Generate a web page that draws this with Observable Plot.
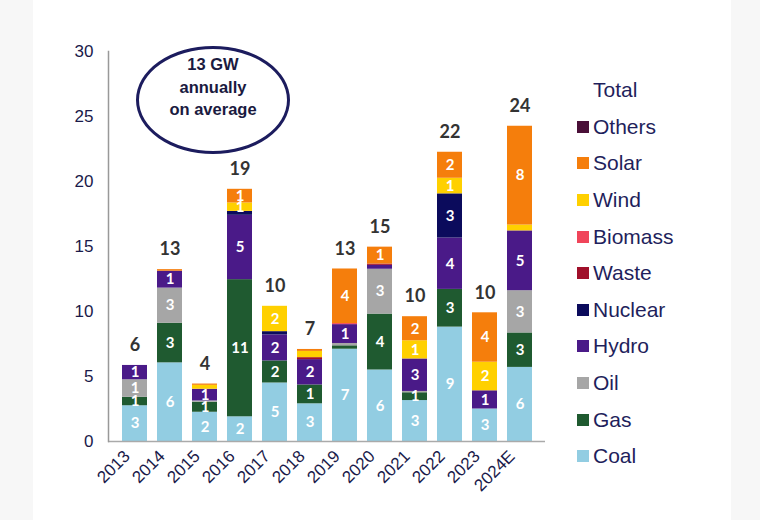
<!DOCTYPE html>
<html>
<head>
<meta charset="utf-8">
<script src="https://cdn.jsdelivr.net/npm/d3@7"></script>
<script src="https://cdn.jsdelivr.net/npm/@observablehq/plot@0.6"></script>
<style>
  html, body { margin: 0; padding: 0; background: #fff; }
  #wrap { position: relative; width: 760px; height: 520px; background: #fff; overflow: hidden; font-family: "Liberation Sans", Arial, sans-serif; }
  .strip { position: absolute; top: 0; height: 520px; background: #f7f7f7; }
  #chart { position: absolute; left: 0; top: 0; }
  #ellipse { position: absolute; left: 136px; top: 46px; width: 148px; border: 3px solid #1c1c5e; border-radius: 50%;
    display: flex; flex-direction: column; align-items: center; justify-content: center; color: #1a1a40;
    font-family: "Liberation Sans", Arial, sans-serif; font-weight: bold; font-size: 16.5px; line-height: 22.5px; padding-bottom: 26px; height: 76px; box-sizing: content-box; }
  #legend { position: absolute; left: 577px; top: 72px; color: #1f1f5c; font-size: 21px; font-family: "Liberation Sans", Arial, sans-serif; }
  #legend .row { display: flex; align-items: center; height: 36.6px; }
  #legend .sw { width: 12px; height: 12px; margin-right: 4px; }
</style>
</head>
<body>
<div id="wrap">
  <div class="strip" style="left:0;width:33px"></div>
  <div class="strip" style="left:731px;width:29px"></div>
  <div id="chart"></div>
  <div id="ellipse"><div>13 GW</div><div>annually</div><div>on average</div></div>
  <div id="legend"></div>
</div>
<script>
const years = ["2013","2014","2015","2016","2017","2018","2019","2020","2021","2022","2023","2024E"];
const coal    = [2.75, 6.05, 2.25, 1.9, 4.5, 2.9, 7.1, 5.5, 3.15, 8.8, 2.5, 5.7];
const gas     = [0.65, 3.05, 0.77, 10.55, 1.7, 1.45, 0.26, 4.3, 0.6, 2.9, 0, 2.65];
const oil     = [1.35, 2.7, 0.1, 0, 0, 0, 0.18, 3.45, 0.1, 0, 0, 3.25];
const hydro   = [1.1, 1.3, 0.9, 4.95, 2.0, 1.95, 1.45, 0.3, 2.5, 3.95, 1.4, 4.6];
const nuclear = [0, 0, 0, 0.3, 0.25, 0, 0, 0, 0, 3.4, 0, 0];
const waste   = [0, 0, 0, 0, 0, 0.15, 0, 0.1, 0, 0, 0, 0];
const biomass = [0, 0, 0, 0, 0, 0, 0.08, 0, 0, 0, 0, 0];
const wind    = [0, 0, 0.3, 0.65, 1.95, 0.48, 0, 0, 1.4, 1.2, 2.2, 0.45];
const solar   = [0, 0.12, 0.1, 1.05, 0, 0.15, 4.2, 1.3, 1.85, 2.0, 3.8, 7.6];
const others  = [0, 0, 0, 0, 0, 0, 0, 0, 0, 0, 0, 0];
const yTicks  = [0, 5, 10, 15, 20, 25, 30];

const sources = ["Coal","Gas","Oil","Hydro","Nuclear","Waste","Biomass","Wind","Solar","Others"];
const series = {Coal: coal, Gas: gas, Oil: oil, Hydro: hydro, Nuclear: nuclear, Waste: waste, Biomass: biomass, Wind: wind, Solar: solar, Others: others};
const colors = ["#92cde2","#1f5a30","#a6a6a6","#4a1a88","#0b0b5c","#a0102a","#f0455a","#ffd000","#f57e0c","#4a0f38"];

const data = [];
years.forEach((y, i) => sources.forEach(s => { if (series[s][i] > 0) data.push({year: y, source: s, value: series[s][i]}); }));
const totals = years.map((y, i) => ({year: y, total: d3.sum(sources, s => series[s][i])}));

const navy = "#1a1a4a";
const plot = Plot.plot({
  width: 560, height: 520,
  marginLeft: 108, marginRight: 15, marginTop: 51, marginBottom: 79,
  style: {background: "transparent", fontFamily: "Liberation Sans, Arial, sans-serif"},
  x: {domain: years, padding: 0.29, label: null},
  y: {domain: [0, 30], label: null},
  color: {domain: sources, range: colors},
  marks: [
    Plot.barY(data, {x: "year", y: "value", z: "source", fill: "source", order: sources}),
    Plot.text(data, Plot.stackY({x: "year", y: "value", z: "source", order: sources,
      text: d => d.value >= 0.5 ? String(Math.round(d.value)) : "",
      fill: "white", fontWeight: "bold", fontSize: 15, fontFamily: "Lato, sans-serif"})),
    Plot.text(totals, {x: "year", y: "total", text: d => String(Math.round(d.total)), dy: -20,
      fill: "#333", fontWeight: "bold", fontSize: 18, fontFamily: "Lato, sans-serif"}),
    Plot.ruleY([0], {stroke: "#aaa", strokeWidth: 1.5}),
    Plot.frame({anchor: "left", stroke: "#999", strokeWidth: 1.5}),
    Plot.axisY({ticks: yTicks, tickSize: 0, tickPadding: 15, fontSize: 17, fill: navy, label: null}),
    Plot.axisX({tickSize: 0, tickRotate: -45, tickPadding: 10, dx: -8, dy: 2, fontSize: 17, fill: navy, label: null})
  ]
});
document.getElementById("chart").appendChild(plot);

const legend = document.getElementById("legend");
const legendItems = ["Total"].concat(sources.slice().reverse());
legendItems.forEach(name => {
  const row = document.createElement("div");
  row.className = "row";
  if (name === "Total") {
    row.style.paddingLeft = "16px";
  } else {
    const sw = document.createElement("div");
    sw.className = "sw";
    sw.style.background = colors[sources.indexOf(name)];
    row.appendChild(sw);
  }
  const t = document.createElement("span");
  t.textContent = name;
  row.appendChild(t);
  legend.appendChild(row);
});
</script>
</body>
</html>
